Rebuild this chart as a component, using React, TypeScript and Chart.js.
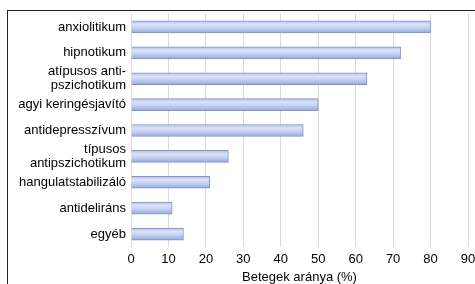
import React, { useEffect, useRef } from "react";
import { Chart, registerables } from "chart.js";

Chart.register(...registerables);

const categories: (string | string[])[] = [
  "anxiolitikum",
  "hipnotikum",
  ["atípusos anti-", "pszichotikum"],
  "agyi keringésjavító",
  "antidepresszívum",
  ["típusos", "antipszichotikum"],
  "hangulatstabilizáló",
  "antideliráns",
  "egyéb",
];
const values: number[] = [80, 72, 63, 50, 46, 26, 21, 11, 14];
const xTicks: number[] = [0, 10, 20, 30, 40, 50, 60, 70, 80, 90];
const xTitle = "Betegek aránya (%)";

export default function App() {
  const ref = useRef<HTMLCanvasElement>(null);
  useEffect(() => {
    if (!ref.current) return;
    const font = { family: "'Liberation Sans', Arial, sans-serif", size: 13, lineHeight: 1.1 };
    const chart = new Chart(ref.current, {
      type: "bar",
      data: {
        labels: categories,
        datasets: [
          {
            data: values,
            barThickness: 12,
            borderWidth: 1,
            borderColor: "#8193c8",
            backgroundColor: (c: any) => {
              const ch = c.chart;
              const ys = ch.scales && ch.scales.y;
              if (!ys || c.dataIndex === undefined) return "#bccaed";
              const y = ys.getPixelForValue(c.dataIndex);
              if (!isFinite(y)) return "#bccaed";
              const g = ch.ctx.createLinearGradient(0, y - 6, 0, y + 6);
              g.addColorStop(0, "#b3c2e8");
              g.addColorStop(0.3, "#dae3f7");
              g.addColorStop(0.6, "#c2cff0");
              g.addColorStop(1, "#96a9d9");
              return g;
            },
          },
        ],
      },
      options: {
        indexAxis: "y",
        animation: false,
        responsive: false,
        maintainAspectRatio: false,
        layout: { padding: { top: 14, right: 7, bottom: 0, left: 0 } },
        plugins: { legend: { display: false }, tooltip: { enabled: false } },
        scales: {
          x: {
            type: "linear",
            min: 0,
            max: 90,
            afterBuildTicks: (s: any) => {
              s.ticks = xTicks.map((v) => ({ value: v }));
            },
            afterFit: (s: any) => {
              s.height = 37;
              s.paddingLeft = 0;
              s.paddingRight = 0;
            },
            grid: { color: "#d9d9d9", drawTicks: false },
            border: { display: false },
            ticks: { color: "#000", font, padding: 5 },
            title: {
              display: true,
              text: xTitle,
              color: "#000",
              font,
              padding: { top: 0, bottom: -1 },
            },
          },
          y: {
            type: "category",
            offset: true,
            afterFit: (s: any) => {
              s.width = 131;
              s.paddingTop = 0;
              s.paddingBottom = 0;
            },
            grid: { display: false, drawTicks: false },
            border: { display: true, color: "#e8d8d8" },
            ticks: { color: "#000", font, padding: 5, autoSkip: false },
          },
        },
      },
    } as any);
    chart.update();
    return () => chart.destroy();
  }, []);
  return (
    <div style={{ position: "fixed", left: 0, top: 0, width: 475, height: 284, background: "#fff" }}>
      <div
        style={{
          position: "absolute",
          left: 7,
          top: 10,
          width: 480,
          height: 290,
          borderLeft: "1.5px solid #222",
          borderTop: "1.5px solid #222",
          boxSizing: "border-box",
        }}
      />
      <canvas ref={ref} width={475} height={284} style={{ position: "absolute", left: 0, top: 0 }} />
    </div>
  );
}
